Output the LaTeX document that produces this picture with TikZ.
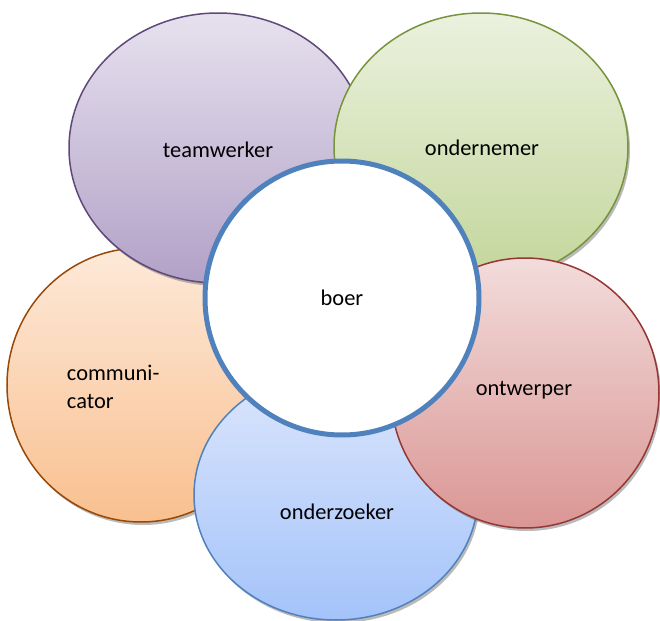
\documentclass[tikz,border=0pt]{standalone}
\usepackage{fontspec}
\setmainfont{Carlito}
\usetikzlibrary{shadows}
\definecolor{teamtop}{HTML}{E6E1EE}
\definecolor{teambot}{HTML}{B2A1C7}
\definecolor{teamline}{HTML}{5F497A}
\definecolor{ondtop}{HTML}{EBF1DE}
\definecolor{ondbot}{HTML}{C3D69B}
\definecolor{ondline}{HTML}{77933C}
\definecolor{ontwtop}{HTML}{F2DCDB}
\definecolor{ontwbot}{HTML}{DA9694}
\definecolor{ontwline}{HTML}{953735}
\definecolor{zoektop}{HTML}{DCE6FC}
\definecolor{zoekbot}{HTML}{A4C3FA}
\definecolor{zoekline}{HTML}{4F81BD}
\definecolor{commtop}{HTML}{FDE9D9}
\definecolor{commbot}{HTML}{F9C08F}
\definecolor{commline}{HTML}{984807}
\tikzset{blob/.style={line width=0.75pt, drop shadow={shadow xshift=1pt, shadow yshift=-1.5pt, opacity=0.45, fill=black!60}}}

\begin{document}
\begin{tikzpicture}[x=0.5pt,y=-0.5pt,font=\fontsize{11.2}{14}\selectfont]
			%%%%% START %%%%%
			\def\xboer{342}
			\def\yboer{298}
			\def\rboer{137}
			\useasboundingbox (0,0) rectangle (660,621);

			\draw[blob, draw=commline, top color=commtop, bottom color=commbot] (141,385) ellipse [x radius=134, y radius=137];
			\node[text width=74pt, align=left] (comm) at (141,387) {communi-\\cator};

			\draw[blob, draw=teamline, top color=teamtop, bottom color=teambot] (218,148) ellipse [x radius=149, y radius=135];
			\node (team) at (218,150) {teamwerker};

			\draw[blob, draw=ondline, top color=ondtop, bottom color=ondbot] (481,147) ellipse [x radius=147, y radius=134];
			\node (ond) at (482,148) {ondernemer};

			\draw[blob, draw=zoekline, top color=zoektop, bottom color=zoekbot] (336,495) ellipse [x radius=142, y radius=125];
			\node (zoek) at (337,512) {onderzoeker};

			\draw[blob, draw=ontwline, top color=ontwtop, bottom color=ontwbot] (525,393) ellipse [x radius=134, y radius=135];
			\node (ontw) at (524,390) {ontwerper};

			\draw[line width=2.5pt, draw=zoekline, fill=white] (\xboer,\yboer) circle (\rboer);
			\node (boer) at (\xboer,\yboer) {boer};
			%%%%% END %%%%%
\end{tikzpicture}
\end{document}
